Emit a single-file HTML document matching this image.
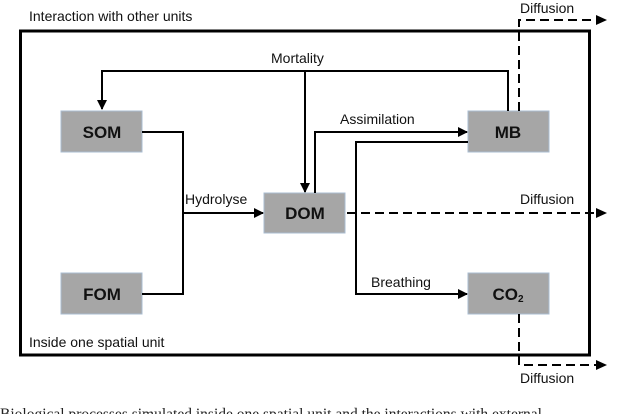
<!DOCTYPE html>
<html><head><meta charset="utf-8"><style>
html,body{margin:0;padding:0;background:#fff;width:640px;height:414px;overflow:hidden}
</style></head><body>
<svg width="640" height="414" viewBox="0 0 640 414" xmlns="http://www.w3.org/2000/svg" font-family="Liberation Sans, sans-serif">
<defs>
<marker id="a" markerWidth="10" markerHeight="10" refX="9" refY="5" orient="auto" markerUnits="userSpaceOnUse">
<path d="M0,0 L10,5 L0,10 z" fill="#000"/></marker>
</defs>
<rect x="20.5" y="31" width="569" height="324" fill="none" stroke="#000" stroke-width="3"/>
<g fill="#a6a6a6" stroke="#a9bcd0" stroke-width="1">
<rect x="61" y="111" width="81" height="41"/>
<rect x="61" y="273" width="81" height="41"/>
<rect x="264" y="193" width="81" height="40"/>
<rect x="468" y="111" width="81" height="41"/>
<rect x="468" y="273" width="81" height="41"/>
</g>
<g font-weight="bold" font-size="17" text-anchor="middle" fill="#111">
<text x="102" y="138">SOM</text>
<text x="102" y="300">FOM</text>
<text x="305" y="219">DOM</text>
<text x="508" y="138">MB</text>
<text x="508" y="300">CO<tspan font-size="10" dy="2">2</tspan></text>
</g>
<g fill="none" stroke="#000" stroke-width="2">
<polyline points="508,111 508,71 102,71 102,109" marker-end="url(#a)"/>
<line x1="305" y1="71" x2="305" y2="192" marker-end="url(#a)"/>
<polyline points="142,132 183,132 183,294 142,294"/>
<line x1="183" y1="213" x2="263" y2="213" marker-end="url(#a)"/>
<polyline points="315,193 315,132 467,132" marker-end="url(#a)"/>
<polyline points="468,142 356,142 356,294 467,294" marker-end="url(#a)"/>
</g>
<g fill="none" stroke="#000" stroke-width="2" stroke-dasharray="9,5">
<polyline points="519,111 519,20 598,20"/>
<line x1="347" y1="213" x2="598" y2="213"/>
<polyline points="519,314 519,365 598,365"/>
</g>
<g fill="#000">
<path d="M596,15 L607,20 L596,25z"/>
<path d="M596,208 L607,213 L596,218z"/>
<path d="M596,360 L607,365 L596,370z"/>
</g>
<g font-size="14" fill="#111">
<text x="29" y="21">Interaction with other units</text>
<text x="29" y="347">Inside one spatial unit</text>
<text x="271" y="63">Mortality</text>
<text x="340" y="124">Assimilation</text>
<text x="185" y="204">Hydrolyse</text>
<text x="371" y="287">Breathing</text>
<text x="520" y="13">Diffusion</text>
<text x="520" y="204">Diffusion</text>
<text x="520" y="383">Diffusion</text>
</g>
<text x="0" y="419" font-family="Liberation Serif, serif" font-size="15.5" fill="#222">Biological processes simulated inside one spatial unit and the interactions with external</text>
</svg>
</body></html>
